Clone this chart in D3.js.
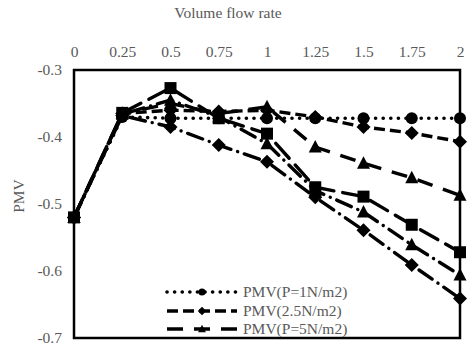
<!DOCTYPE html>
<html><head><meta charset="utf-8">
<script src="https://cdn.jsdelivr.net/npm/d3@7"></script>
<style>body{margin:0;background:#fff}svg{display:block}</style>
</head><body>
<script>
const xValues = [0, 0.25, 0.5, 0.75, 1, 1.25, 1.5, 1.75, 2];
const xTickLabels = ["0","0.25","0.5","0.75","1","1.25","1.5","1.75","2"];
const yTicks = [-0.3, -0.4, -0.5, -0.6, -0.7];
const yTickLabels = ["-0.3", "-0.4", "-0.5", "-0.6", "-0.7"];
const pmvP1   = [-0.52, -0.37, -0.372, -0.372, -0.372, -0.372, -0.372, -0.372, -0.372];
const pmvP25  = [-0.52, -0.365, -0.36, -0.362, -0.36, -0.37, -0.385, -0.394, -0.407];
const pmvP5   = [-0.52, -0.365, -0.35, -0.365, -0.355, -0.415, -0.439, -0.461, -0.487];
const seriesD = [-0.52, -0.368, -0.385, -0.412, -0.437, -0.49, -0.539, -0.591, -0.641];
const seriesT = [-0.52, -0.366, -0.345, -0.37, -0.41, -0.48, -0.512, -0.561, -0.606];
const seriesS = [-0.52, -0.364, -0.327, -0.372, -0.395, -0.475, -0.489, -0.531, -0.572];
const legendLabels = ["PMV(P=1N/m2)", "PMV(2.5N/m2)", "PMV(P=5N/m2)"];

const W = 471, H = 349;
const L = 74, R = 460, T = 70, B = 338;
const svg = d3.select("body").append("svg").attr("width", W).attr("height", H);
const x = d3.scaleLinear().domain([0, 2]).range([L, R]);
const y = d3.scaleLinear().domain([-0.3, -0.7]).range([T, B]);
const font = "'Liberation Serif','Times New Roman',serif";
const grey = "#595959";
const fs = "15.5px";

const series = [
  {v: pmvP1, dash: "0.1,7.5", cap: "round", w: 3.6, m: "circle"},
  {v: pmvP25, dash: "11,5", cap: "butt", w: 3.4, m: "diamond"},
  {v: pmvP5, dash: "16,11", cap: "butt", w: 3.4, m: "triangle"},
  {v: seriesD, dash: "16,7,0.1,7", cap: "round", w: 3.4, m: "diamond"},
  {v: seriesT, dash: "16,7,0.1,7", cap: "round", w: 3.4, m: "triangle"},
  {v: seriesS, dash: "20,9", cap: "round", w: 3.4, m: "square"}
];

function marker(g, type, cx, cy, s) {
  if (type === "circle") g.append("circle").attr("cx", cx).attr("cy", cy).attr("r", 6*s);
  else if (type === "diamond") g.append("path").attr("d", `M${cx},${cy-7*s}L${cx+7*s},${cy}L${cx},${cy+7*s}L${cx-7*s},${cy}Z`);
  else if (type === "triangle") g.append("path").attr("d", `M${cx},${cy-7*s}L${cx+6.5*s},${cy+5.5*s}L${cx-6.5*s},${cy+5.5*s}Z`);
  else g.append("rect").attr("x", cx-6*s).attr("y", cy-6*s).attr("width", 12*s).attr("height", 12*s);
}

// plot box
svg.append("rect").attr("x", L).attr("y", T).attr("width", R-L).attr("height", B-T)
  .attr("fill", "none").attr("stroke", "#000").attr("stroke-width", 2.5);

const line = d3.line().x((d, i) => x(xValues[i])).y(d => y(d));
series.forEach(s => {
  svg.append("path").datum(s.v).attr("d", line).attr("fill", "none")
    .attr("stroke", "#000").attr("stroke-width", s.w)
    .attr("stroke-dasharray", s.dash).attr("stroke-linecap", s.cap);
  const g = svg.append("g").attr("fill", "#000");
  s.v.forEach((d, i) => marker(g, s.m, x(xValues[i]), y(d), 1));
});

// top x axis labels
const xAxis = d3.axisTop(x).tickValues(xValues).tickSize(0).tickPadding(0)
  .tickFormat((d, i) => xTickLabels[i]);
const gx = svg.append("g").attr("transform", `translate(0,${T-13})`).call(xAxis);
gx.select(".domain").remove();
gx.selectAll("text").attr("fill", grey).style("font-family", font).style("font-size", fs);

// left y axis labels
const yAxis = d3.axisLeft(y).tickValues(yTicks).tickSize(0).tickPadding(0)
  .tickFormat((d, i) => yTickLabels[i]);
const gy = svg.append("g").attr("transform", `translate(${L-12},0)`).call(yAxis);
gy.select(".domain").remove();
gy.selectAll("text").attr("fill", grey).style("font-family", font).style("font-size", fs);

svg.append("text").attr("x", 228).attr("y", 18).attr("text-anchor", "middle")
  .attr("fill", grey).style("font-family", font).style("font-size", fs).text("Volume flow rate");
svg.append("text").attr("transform", `translate(24,${(T+B)/2 - 8}) rotate(-90)`)
  .attr("text-anchor", "middle").attr("fill", grey).style("font-family", font)
  .style("font-size", fs).text("PMV");

// legend
const legY = [292, 311, 329];
legendLabels.forEach((lab, i) => {
  const s = series[i];
  svg.append("line").attr("x1", 167).attr("x2", 237).attr("y1", legY[i]).attr("y2", legY[i])
    .attr("stroke", "#000").attr("stroke-width", s.w).attr("stroke-dasharray", s.dash)
    .attr("stroke-linecap", s.cap);
  const g = svg.append("g").attr("fill", "#000");
  marker(g, s.m, 202, legY[i], 0.6);
  svg.append("text").attr("x", 243).attr("y", legY[i]).attr("dy", "0.35em")
    .attr("fill", grey).style("font-family", font).style("font-size", fs).text(lab);
});
</script>
</body></html>
